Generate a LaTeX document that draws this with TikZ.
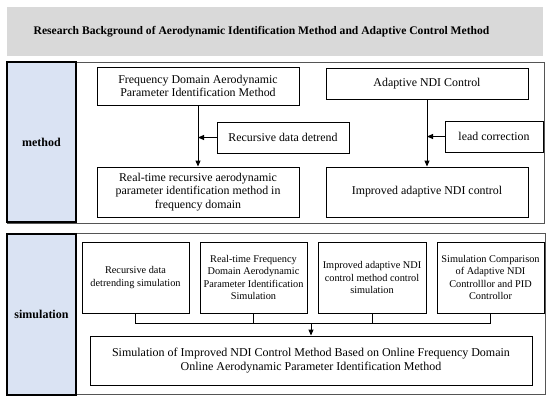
\documentclass[tikz,border=0pt]{standalone}
\usepackage{fontspec}
\setmainfont{Liberation Serif}
\usetikzlibrary{arrows.meta}
\definecolor{titlegray}{HTML}{D9D9D9}
\definecolor{labelblue}{HTML}{DAE3F3}
\definecolor{framegray}{HTML}{555555}
\begin{document}
\begin{tikzpicture}[x=1pt,y=-1pt,
  box/.style={draw=black,line width=0.9pt,fill=white,align=center,inner sep=1pt,font=\fontsize{11.9}{13.3}\selectfont},
  simbox/.style={box,font=\fontsize{10.3}{12.3}\selectfont},
  frame/.style={draw=framegray,line width=0.8pt},
  label/.style={draw=black,line width=2.2pt,fill=labelblue,font=\fontsize{12}{14}\selectfont\bfseries},
  arr/.style={line width=0.9pt,-{Triangle[length=6pt,width=5pt]}},
  line/.style={line width=0.9pt}]
\useasboundingbox (0,0) rectangle (550,402);
% title
\node[fill=titlegray,minimum width=536pt,minimum height=49pt,inner sep=0pt] (title) at (275,31.5) {};
\node[font=\fontsize{11.6}{13}\selectfont\bfseries,inner sep=0pt] (titletext) at (261.5,31.5) {Research Background of Aerodynamic Identification Method and Adaptive Control Method};
% method section
\node[frame,minimum width=537pt,minimum height=161pt,inner sep=0pt] (mframe) at (275.5,142.5) {};
\node[label,minimum width=69pt,minimum height=160pt,inner sep=0pt] (mlabel) at (41.5,142) {method};
\node[box,minimum width=202pt,minimum height=38pt] (A1) at (198,86) {Frequency Domain Aerodynamic\\Parameter Identification Method};
\node[box,minimum width=132pt,minimum height=31pt] (A2) at (283,137.5) {Recursive data detrend};
\node[box,minimum width=202pt,minimum height=50pt] (A3) at (198,192) {Real-time recursive aerodynamic\\parameter identification method in\\frequency domain};
\node[box,minimum width=202pt,minimum height=31pt] (B1) at (427,83.5) {Adaptive NDI Control};
\node[box,minimum width=98pt,minimum height=31pt] (B2) at (494,136.5) {lead correction};
\node[box,minimum width=202pt,minimum height=50pt] (B3) at (427,192) {Improved adaptive NDI control};
\draw[arr] (A1.south) -- (A3.north);
\draw[arr] (A2.west) -- (A2.west -| A1.south);
\draw[arr] (B1.south) -- (B3.north);
\draw[arr] (B2.west) -- (B2.west -| B1.south);
% simulation section
\node[frame,minimum width=538pt,minimum height=161pt,inner sep=0pt] (sframe) at (276,313.5) {};
\node[label,minimum width=69pt,minimum height=161pt,inner sep=0pt] (slabel) at (41.5,314.5) {simulation};
\node[simbox,minimum width=107pt,minimum height=71pt] (S1) at (135.5,277.5) {Recursive data\\detrending simulation};
\node[simbox,minimum width=107pt,minimum height=71pt] (S2) at (253.5,277.5) {Real-time Frequency\\Domain Aerodynamic\\Parameter Identification\\Simulation};
\node[simbox,minimum width=108pt,minimum height=71pt] (S3) at (372,277.5) {Improved adaptive NDI\\control method control\\simulation};
\node[simbox,minimum width=107pt,minimum height=71pt] (S4) at (490.5,277.5) {Simulation Comparison\\of Adaptive NDI\\Controlllor and PID\\Controllor};
\node[box,font=\fontsize{12}{14.5}\selectfont,minimum width=442pt,minimum height=49pt] (R) at (311,360.5) {Simulation of Improved NDI Control Method Based on Online Frequency Domain\\Online Aerodynamic Parameter Identification Method};
\coordinate (bus) at (0,323);
\draw[line] (S1.south) -- (S1.south |- bus) -- (S4.south |- bus) -- (S4.south);
\draw[line] (S2.south) -- (S2.south |- bus);
\draw[line] (S3.south) -- (S3.south |- bus);
\draw[arr] (R.north |- bus) -- (R.north);
\end{tikzpicture}
\end{document}
